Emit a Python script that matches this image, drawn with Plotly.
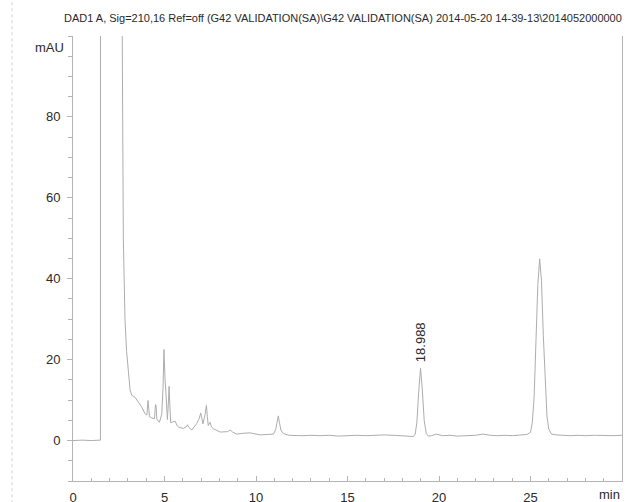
import plotly.graph_objects as go

# Retention time (min) and detector signal (mAU)
times = [0, 0.5, 1.0, 1.5, 1.51, 2.0, 2.62, 2.68, 2.75, 2.84, 2.93, 3.03, 3.12, 3.21, 3.39, 3.57,
         3.75, 3.94, 4.04, 4.10, 4.13, 4.18, 4.30, 4.45, 4.51, 4.54, 4.58, 4.72, 4.85, 4.92, 4.97,
         5.00, 5.03, 5.09, 5.16, 5.22, 5.25, 5.29, 5.34, 5.45, 5.58, 5.70, 5.78, 6.03, 6.20, 6.26,
         6.32, 6.49, 6.76, 6.90, 6.98, 7.04, 7.10, 7.22, 7.29, 7.34, 7.39, 7.49, 7.56, 7.68, 8.04,
         8.45, 8.59, 8.72, 8.95, 9.3, 9.68, 10.0, 10.23, 10.6, 10.96, 11.08, 11.16, 11.22, 11.28,
         11.36, 11.5, 11.8, 12.5, 13.0, 13.5, 14.0, 14.5, 15.0, 15.5, 16.0, 16.5, 17.0, 17.5, 18.0,
         18.4, 18.6, 18.7, 18.79, 18.89, 18.99, 19.09, 19.19, 19.3, 19.42, 19.6, 19.85, 20.2, 20.6,
         21.0, 21.5, 22.0, 22.4, 22.8, 23.2, 23.6, 24.0, 24.4, 24.8, 25.0, 25.1, 25.2, 25.3, 25.4,
         25.5, 25.6, 25.7, 25.8, 25.9, 26.0, 26.15, 26.4, 26.8, 27.2, 27.6, 28.0, 28.5, 29.0, 29.5,
         30.0]
signal = [0.0, 0.1, 0.0, 0.1, 400, 900, 400, 110, 50, 30, 22, 17, 12.5, 11.2, 10.7, 9.5,
          8.3, 6.6, 6.3, 9.9, 8.0, 5.9, 5.6, 5.4, 8.9, 8.6, 5.3, 4.5, 6.5, 13, 22.5,
          18, 15.1, 10.9, 5.2, 10, 13.4, 9, 4.4, 4.6, 4.8, 3.6, 3.3, 3.0, 3.5, 3.9,
          3.3, 2.6, 4.2, 5.5, 6.8, 5.5, 4.1, 6.5, 8.7, 6.0, 3.7, 4.5, 3.4, 2.9, 2.1,
          2.2, 2.6, 2.1, 1.6, 1.8, 1.9, 1.6, 1.4, 1.5, 1.6, 2.8, 5.0, 6.1, 4.5,
          2.6, 1.7, 1.3, 1.2, 1.3, 1.2, 1.3, 1.1, 1.2, 1.3, 1.2, 1.3, 1.4, 1.3, 1.2,
          1.2, 1.0, 1.6, 4.5, 12.0, 17.9, 12.5, 5.0, 1.8, 1.1, 1.2, 1.6, 1.2, 1.3,
          1.1, 1.2, 1.3, 1.6, 1.3, 1.2, 1.3, 1.2, 1.3, 1.5, 2.0, 4.5, 11.0, 24, 38.5,
          44.9, 39.5, 26, 13.5, 6.0, 2.8, 1.6, 1.4, 1.3, 1.2, 1.3, 1.2, 1.3, 1.2, 1.2,
          1.3]

x_ticks = [0, 5, 10, 15, 20, 25]
y_ticks = [0, 20, 40, 60, 80]
peak_label_rt = 18.988
peak_label_text = "18.988"
title_text = "DAD1 A, Sig=210,16 Ref=off (G42 VALIDATION(SA)\\G42 VALIDATION(SA) 2014-05-20 14-39-13\\2014052000000"

FONT = "Liberation Sans, Arial, sans-serif"
TXT = "#2a2a2a"
AX = "#b4b4b4"

fig = go.Figure()
fig.add_trace(go.Scatter(x=times, y=signal, mode="lines",
                         line=dict(color="#adadad", width=1), hoverinfo="skip"))

fig.add_annotation(x=peak_label_rt, y=19.0, xref="x", yref="y", text=peak_label_text,
                   textangle=-90, showarrow=False, xanchor="center", yanchor="bottom",
                   font=dict(family=FONT, size=13, color=TXT))

fig.add_annotation(x=-0.020, y=1.040, xref="paper", yref="paper", text=title_text,
                   showarrow=False, xanchor="left", yanchor="middle",
                   font=dict(family=FONT, size=11, color=TXT))
fig.add_annotation(x=-0.042, y=0.975, xref="paper", yref="paper", text="mAU",
                   showarrow=False, xanchor="center", yanchor="middle",
                   font=dict(family=FONT, size=13, color=TXT))
fig.add_annotation(x=1.0, y=-0.031, xref="paper", yref="paper", text="min",
                   showarrow=False, xanchor="right", yanchor="middle",
                   font=dict(family=FONT, size=13, color=TXT))

# faint scanner artefact line at the far left
fig.add_shape(type="line", xref="paper", yref="paper", x0=-0.111, x1=-0.111, y0=-0.05, y1=1.08,
              line=dict(color="#d0d0d0", width=1, dash="dot"))

fig.update_layout(
    width=631, height=517,
    margin=dict(l=73, r=9, t=36, b=36),
    paper_bgcolor="white", plot_bgcolor="white",
    showlegend=False,
    font=dict(family=FONT, size=13, color=TXT),
)
fig.update_xaxes(range=[0, 30], tickmode="array", tickvals=x_ticks,
                 showgrid=False, zeroline=False, showline=True, linecolor=AX, linewidth=1,
                 ticks="inside", ticklen=5, tickcolor=AX, ticklabelstandoff=4,
                 minor=dict(dtick=1, ticks="inside", ticklen=3, tickcolor=AX))
fig.update_yaxes(range=[-10, 100], tickmode="array", tickvals=y_ticks,
                 showgrid=False, zeroline=False, showline=True, linecolor=AX, linewidth=1,
                 mirror=True,
                 ticks="outside", ticklen=5, tickcolor=AX, ticklabelstandoff=4,
                 minor=dict(dtick=5, ticks="outside", ticklen=4, tickcolor=AX))

fig.write_html("out.html",
               config={"displayModeBar": False, "responsive": False},
               post_script=("document.documentElement.style.margin='0';"
                            "document.documentElement.style.overflow='hidden';"
                            "document.body.style.margin='0';"
                            "document.body.style.overflow='hidden';"))
